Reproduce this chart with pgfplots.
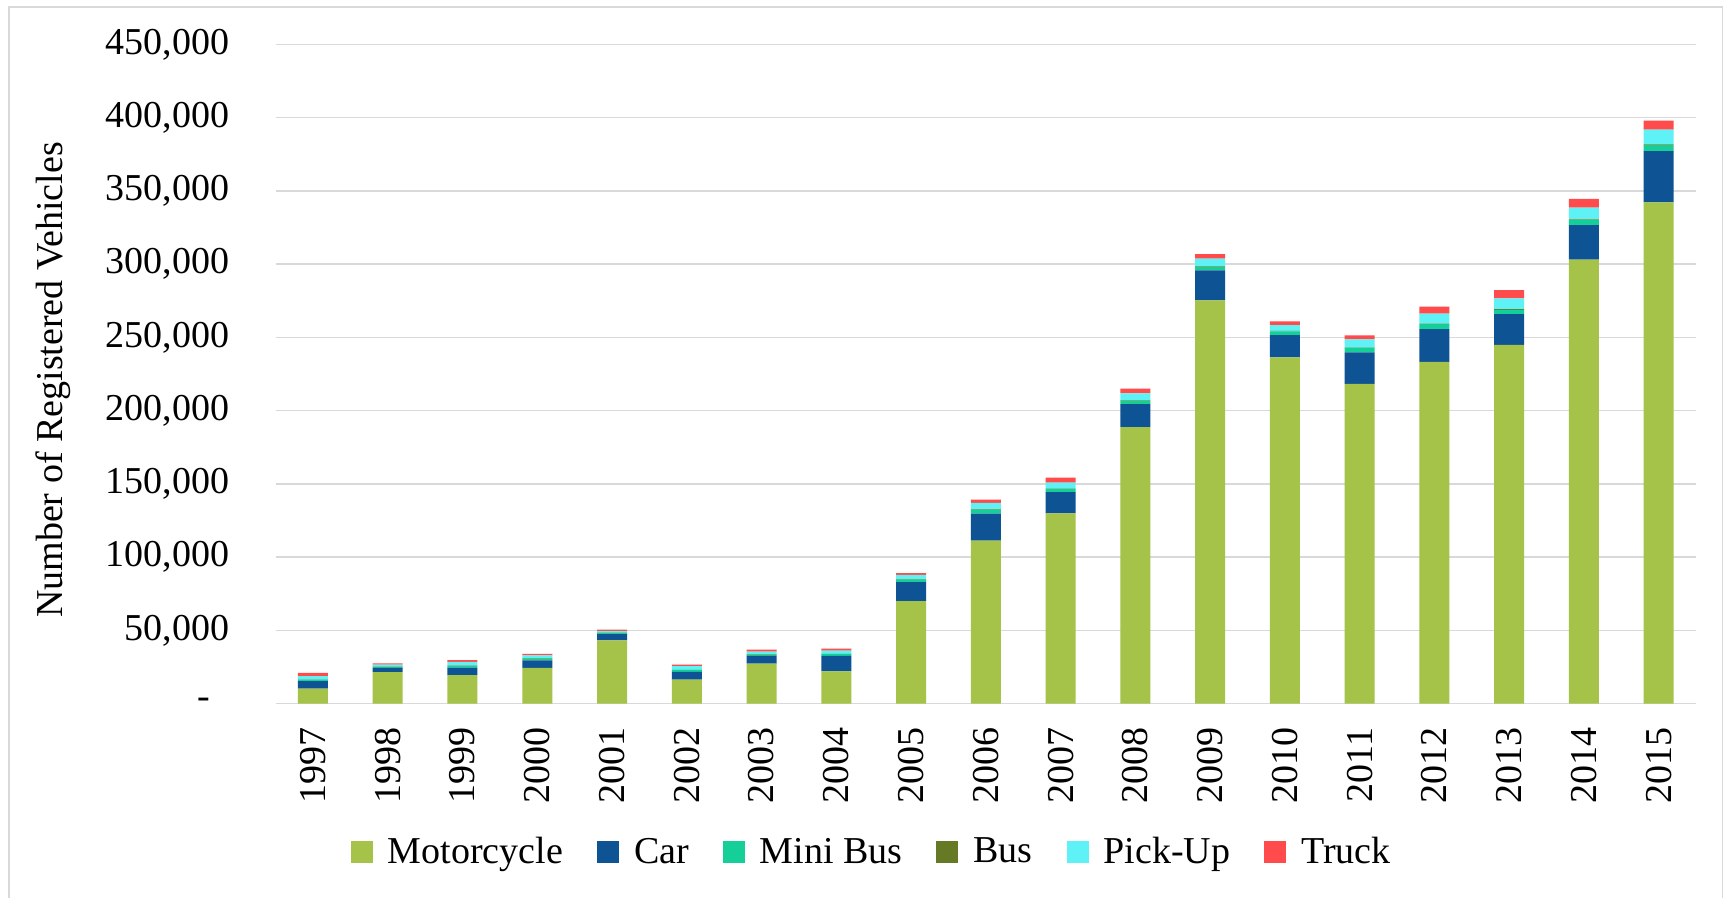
\documentclass[border=0pt]{standalone}
\usepackage{fontspec}
\setmainfont{Liberation Serif}
\usepackage{pgfplots}
\usepackage{pgfplotstable}
\pgfplotsset{compat=1.18}
\definecolor{cMoto}{RGB}{165,194,73}
\definecolor{cCar}{RGB}{14,84,149}
\definecolor{cMini}{RGB}{20,207,152}
\definecolor{cBus}{RGB}{102,122,37}
\definecolor{cPick}{RGB}{94,242,247}
\definecolor{cTruck}{RGB}{255,75,75}
\definecolor{cGrid}{RGB}{217,217,217}
\pgfplotstableread{
x year moto car mini bus pick truck
0 1997 10200 5200 1000 200 2200 2100
1 1998 21400 2900 700 200 1400 900
2 1999 19500 5000 1200 300 2400 1200
3 2000 24300 5200 1200 300 2000 900
4 2001 43200 4300 800 200 1000 1000
5 2002 16400 5200 1200 200 2500 1100
6 2003 27300 5200 1000 200 1800 1400
7 2004 22000 10500 1200 200 2300 1400
8 2005 70000 13000 1600 300 2900 1200
9 2006 111300 18400 2600 300 4400 2300
10 2007 129900 14400 2200 300 4100 3400
11 2008 188800 15700 2300 300 4600 3300
12 2009 275300 20500 2400 300 5300 3100
13 2010 236400 15200 2500 300 3900 2700
14 2011 218200 21600 3000 200 5700 2700
15 2012 233200 22500 3400 300 6800 4800
16 2013 244800 21000 3000 400 7500 5500
17 2014 303100 23600 3400 500 8000 5900
18 2015 342200 34900 4200 500 10000 6100
}\datatable
\begin{document}
\begin{tikzpicture}
\useasboundingbox (0,0) rectangle (864.5pt,449pt);
\fill[white] (0,0) rectangle (864.5pt,449pt);
\draw[cGrid, line width=0.6pt] (4.5pt,0) -- (4.5pt,445.5pt) -- (861.2pt,445.5pt) -- (861.2pt,0);
\begin{axis}[
  at={(137.8pt,97.2pt)}, anchor=south west,
  scale only axis, width=710.2pt, height=329.6pt,
  ybar stacked, bar width=15pt,
  xmin=-0.5, xmax=18.5, ymin=0, ymax=450000,
  scaled y ticks=false,
  xtick=data,
  xticklabels={1997,1998,1999,2000,2001,2002,2003,2004,2005,2006,2007,2008,2009,2010,2011,2012,2013,2014,2015},
  ytick={0,50000,100000,150000,200000,250000,300000,350000,400000,450000},
  yticklabels={{-\hspace*{9.5pt}},{50,000},{100,000},{150,000},{200,000},{250,000},{300,000},{350,000},{400,000},{450,000}},
  ymajorgrids, grid style={cGrid, line width=0.75pt},
  axis line style={draw=none},
  major tick length=0pt,
  tick style={draw=none},
  tick label style={font=\fontsize{19}{22}\selectfont, inner sep=0pt},
  yticklabel style={anchor=east},
  xticklabel style={rotate=90, anchor=east},
  yticklabel shift=23pt,
  xticklabel shift=12pt,
  legend style={draw=none, fill=none, font=\fontsize{19}{22}\selectfont,
    at={(0.4204,-0.2251)}, anchor=center, legend columns=6,
    /tikz/every even column/.append style={column sep=15pt},
    inner sep=0pt},
  legend cell align=left,
  legend image code/.code={\fill[#1] (0pt,-5.5pt) rectangle (11pt,5.5pt);},
  clip=false,
]
\addplot[fill=cMoto, draw=none] table[x=x, y=moto] {\datatable};
\addplot[fill=cCar, draw=none] table[x=x, y=car] {\datatable};
\addplot[fill=cMini, draw=none] table[x=x, y=mini] {\datatable};
\addplot[fill=cBus, draw=none] table[x=x, y=bus] {\datatable};
\addplot[fill=cPick, draw=none] table[x=x, y=pick] {\datatable};
\addplot[fill=cTruck, draw=none] table[x=x, y=truck] {\datatable};
\legend{\hspace*{5.5pt}Motorcycle, \hspace*{5.5pt}Car, \hspace*{5.5pt}Mini Bus, \hspace*{5.5pt}Bus, \hspace*{5.5pt}Pick-Up, \hspace*{5.5pt}Truck}
\end{axis}
\node[rotate=90, font=\fontsize{19}{22}\selectfont] at (26.5pt,259pt) {Number of Registered Vehicles};
\end{tikzpicture}
\end{document}
